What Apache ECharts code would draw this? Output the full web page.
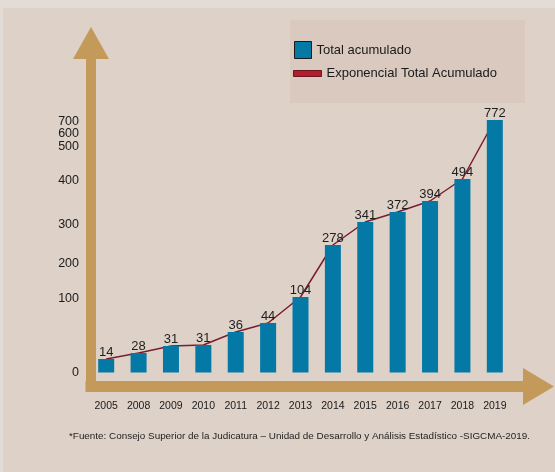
<!DOCTYPE html>
<html>
<head>
<meta charset="utf-8">
<script src="https://cdn.jsdelivr.net/npm/echarts@6/dist/echarts.min.js"></script>
<style>
html,body{margin:0;padding:0;background:#e3dbd6;}
#chart{width:555px;height:472px;}
</style>
</head>
<body>
<div id="chart"></div>
<script>
// Years (categories)
const years = ['2005','2008','2009','2010','2011','2012','2013','2014','2015','2016','2017','2018','2019'];
// Value printed above each bar
const totals = [14, 28, 31, 31, 36, 44, 104, 278, 341, 372, 394, 494, 772];
// Bar heights as drawn on the reference's (non-uniform) vertical scale, in drawn-scale units
const barHeights = [13.5, 19.5, 26.5, 27.5, 40.5, 49.5, 75.5, 127.5, 150.5, 160.5, 171.5, 193.5, 252.5];
// Vertical axis tick labels and the drawn-scale level at which each one sits
const tickLabels = ['0','100','200','300','400','500','600','700'];
const tickLevels = [0, 73.5, 108.5, 147.5, 191.5, 225.5, 238.5, 250.5];

const footnote = '*Fuente: Consejo Superior de la Judicatura \u2013 Unidad de Desarrollo y An\u00e1lisis Estad\u00edstico -SIGCMA-2019.';

const TAN = '#c39a59';
const BAR = '#0479a5';
const LINE = '#7c1d2f';
const FONT = '"Liberation Sans", Arial, sans-serif';

// The ticks are packed closely near the top, so they are split over two
// overlaid axes (even / odd ticks) to stop the library hiding overlapping ones.
function labelAxis(parity) {
  const vals = tickLevels.filter(function (v, i) { return i % 2 === parity; });
  return {
    gridIndex: 0, type: 'value', min: 0, max: 300, position: 'left', offset: 0,
    axisLine: {show: false}, axisTick: {show: false}, splitLine: {show: false},
    axisLabel: {
      customValues: vals,
      hideOverlap: false,
      formatter: function (v) {
        const i = tickLevels.indexOf(v);
        return i >= 0 ? tickLabels[i] : '';
      },
      margin: 11, fontSize: 12.5, color: '#1a1a1a', fontFamily: FONT
    }
  };
}

const chart = echarts.init(document.getElementById('chart'), null, {renderer: 'canvas'});

chart.setOption({
  backgroundColor: '#e3dbd6',
  textStyle: {fontFamily: FONT},
  animation: false,
  graphic: [
    {type: 'rect', z: -10, silent: true, shape: {x: 3, y: 8, width: 552, height: 464}, style: {fill: '#ddd1c8'}},
    {type: 'rect', z: -9, silent: true, shape: {x: 290, y: 20, width: 235, height: 83}, style: {fill: '#d9c9bf'}}
  ],
  title: {
    text: footnote,
    left: 69, top: 431, padding: 0,
    textStyle: {fontSize: 9.9, fontWeight: 'normal', color: '#1e1e1e', fontFamily: FONT}
  },
  legend: [
    {
      left: 294, top: 41, padding: 0, orient: 'vertical',
      itemWidth: 17, itemHeight: 17,
      data: [{name: 'Total acumulado', icon: 'rect'}],
      itemStyle: {borderColor: '#1a1a1a', borderWidth: 1},
      textStyle: {fontSize: 13, color: '#1a1a1a', fontFamily: FONT},
      selectedMode: false
    },
    {
      left: 293, top: 67, padding: 0, orient: 'vertical',
      itemWidth: 28, itemHeight: 6,
      data: [{name: 'Exponencial Total Acumulado', icon: 'rect'}],
      itemStyle: {color: '#b01f2e', borderColor: '#6e1420', borderWidth: 1},
      textStyle: {fontSize: 13, color: '#1a1a1a', fontFamily: FONT},
      selectedMode: false
    }
  ],
  grid: [
    // data grid
    {left: 90, right: 44, top: 72.5, bottom: 99.5},
    // frame (arrow axes)
    {left: 91, right: 16.5, top: 43, bottom: 85.5}
  ],
  xAxis: [
    {
      gridIndex: 0, type: 'category', data: years, boundaryGap: true,
      axisLine: {show: false}, axisTick: {show: false},
      axisLabel: {margin: 28, fontSize: 10.5, color: '#1a1a1a', fontFamily: FONT, interval: 0}
    },
    {
      gridIndex: 1, type: 'value', min: 0, max: 1,
      axisLabel: {show: false}, axisTick: {show: false}, splitLine: {show: false},
      axisLine: {show: true, symbol: ['none', 'triangle'], symbolSize: [37, 31],
        lineStyle: {color: TAN, width: 11, cap: 'square'}}
    }
  ],
  yAxis: [
    labelAxis(0),
    {
      gridIndex: 1, type: 'value', min: 0, max: 1,
      axisLabel: {show: false}, axisTick: {show: false}, splitLine: {show: false},
      axisLine: {show: true, symbol: ['none', 'triangle'], symbolSize: [36, 32],
        lineStyle: {color: TAN, width: 10, cap: 'square'}}
    },
    labelAxis(1)
  ],
  series: [
    {
      name: 'Exponencial Total Acumulado', type: 'line',
      xAxisIndex: 0, yAxisIndex: 0, z: 1,
      data: barHeights,
      showSymbol: false, symbol: 'none',
      lineStyle: {color: LINE, width: 1.5},
      itemStyle: {color: '#b01f2e'}
    },
    {
      name: 'Total acumulado', type: 'bar',
      xAxisIndex: 0, yAxisIndex: 0, z: 2,
      data: barHeights, barWidth: 16,
      itemStyle: {color: BAR},
      label: {
        show: true, position: 'top', distance: 0.5,
        formatter: function (p) { return String(totals[p.dataIndex]); },
        fontSize: 13, color: '#1e1e1e', fontFamily: FONT
      }
    }
  ]
});
</script>
</body>
</html>
